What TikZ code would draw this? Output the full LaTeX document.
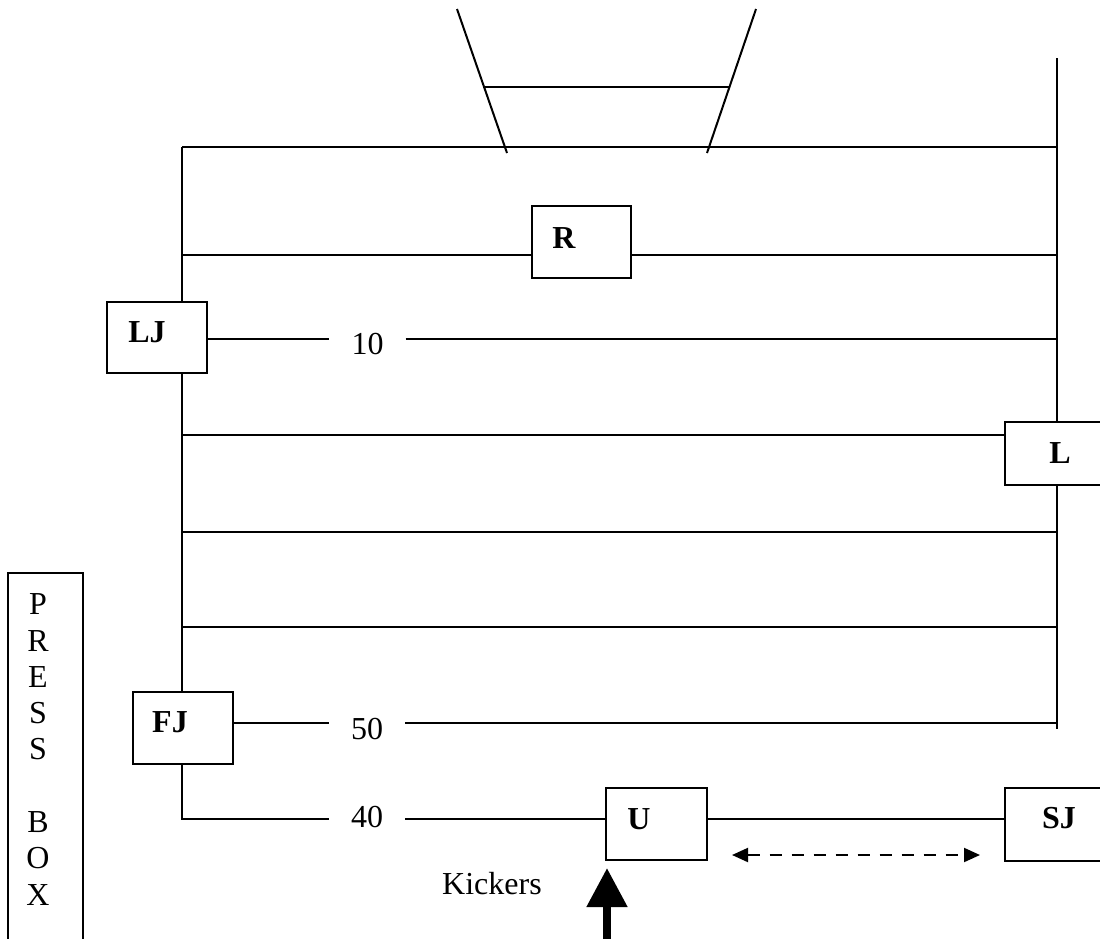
\documentclass[tikz,border=0pt]{standalone}
\usepackage{fontspec}
\setmainfont{Liberation Serif}
\usetikzlibrary{arrows.meta}
\begin{document}
\begin{tikzpicture}[x=1pt,y=-1pt,
  ln/.style={line width=2pt},
  box/.style={draw, line width=2pt, inner sep=0pt, minimum width=100pt, minimum height=72pt},
  lab/.style={font=\fontsize{32}{36}\selectfont\bfseries, inner sep=0pt},
  num/.style={font=\fontsize{32}{36}\selectfont, inner xsep=22pt, inner ysep=0pt},
  txt/.style={font=\fontsize{32}{36.3}\selectfont, inner sep=0pt, align=center},
  dasharrow/.style={line width=2pt, dash pattern=on 12pt off 10pt,
    >={Triangle[length=16pt,width=14pt]}, <->}
]
\useasboundingbox (0,0) rectangle (1100,938);

% goal posts
\draw[ln] (457,9) -- (507,153);
\draw[ln] (756,9) -- (707,153);
\draw[ln] (483,87) -- (730,87);

% boxes
\node[box, minimum height=71pt] (LJ) at (157,337.5) {};
\node[box, minimum width=99pt] (R) at (581.5,242) {};
\node[box, minimum height=63pt] (L) at (1055,453.5) {};
\node[box] (FJ) at (183,728) {};
\node[box, minimum width=101pt] (U) at (656.5,824) {};
\node[box, minimum height=73pt] (SJ) at (1055,824.5) {};

% box labels
\node[lab] (LJt) at (147,332.5) {LJ};
\node[lab] (Rt) at (564,238) {R};
\node[lab] (Lt) at (1060,453) {L};
\node[lab] (FJt) at (170,722) {FJ};
\node[lab] (Ut) at (639,819) {U};
\node[lab] (SJt) at (1059,818) {SJ};

% yard numbers
\node[num] (n10) at (367.5,344) {10};
\node[num] (n50) at (367,729) {50};
\node[num] (n40) at (367,817.5) {40};

% line coordinates
\coordinate (lt) at (182,147);
\coordinate (rt) at (1057,58);
\coordinate (rb) at (1057,729);
\coordinate (a2) at (182,255);
\coordinate (a3) at (182,339);
\coordinate (a4) at (182,435);
\coordinate (a5) at (182,532);
\coordinate (a6) at (182,627);
\coordinate (a7) at (182,723);
\coordinate (lc) at (182,819);

% verticals
\draw[ln] (rt) -- (rt |- L.north);
\draw[ln] (rt |- L.south) -- (rb);
\draw[ln] (lt) -- (lt |- LJ.north);
\draw[ln] (lt |- LJ.south) -- (lt |- FJ.north);
\draw[ln] (FJ.south -| lt) -- (lc) -- (lc -| n40.west);

% horizontals
\draw[ln] (lt) -- (lt -| rt);
\draw[ln] (a2) -- (a2 -| R.west);
\draw[ln] (a2 -| R.east) -- (a2 -| rt);
\draw[ln] (a3 -| LJ.east) -- (a3 -| n10.west);
\draw[ln] (a3 -| n10.east) -- (a3 -| rt);
\draw[ln] (a4) -- (a4 -| L.west);
\draw[ln] (a5) -- (a5 -| rt);
\draw[ln] (a6) -- (a6 -| rt);
\draw[ln] (a7 -| FJ.east) -- (a7 -| n50.west);
\draw[ln] (a7 -| n50.east) -- (a7 -| rt);
\draw[ln] (n40.east |- lc) -- (lc -| U.west);
\draw[ln] (U.east |- lc) -- (lc -| SJ.west);

% dashed double arrow
\coordinate (dl) at (732,855);
\coordinate (dr) at (980,855);
\draw[dasharrow] (dl) -- (dr);

% kick arrow
\coordinate (kb) at (607,945);
\coordinate (kt) at (607,868);
\draw[line width=8pt, -{Triangle[length=39pt,width=39pt]}] (kb) -- (kt);
\node[txt] (kick) at (492,884) {Kickers};

% press box
\node[draw, line width=2pt, minimum width=75pt, minimum height=420pt, anchor=north, inner sep=0pt] (PB) at (45.5,572) {};
\node[txt] (PBt) at (38,749.5) {P\\R\\E\\S\\S\\[36.3pt]B\\O\\X};
\end{tikzpicture}
\end{document}
